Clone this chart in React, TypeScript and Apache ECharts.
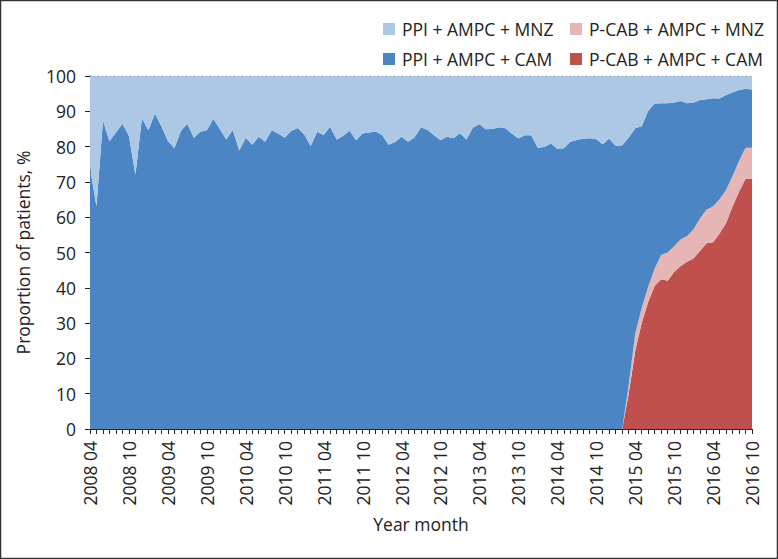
import React, { useEffect, useRef } from "react";
import * as echarts from "echarts";

const years = [2008, 2009, 2010, 2011, 2012, 2013, 2014, 2015, 2016];
const monthsLabels = ["01", "02", "03", "04", "05", "06", "07", "08", "09", "10", "11", "12"];
const categories: string[] = [];
for (const y of years) {
  for (const m of monthsLabels) {
    const key = y * 100 + Number(m);
    if (key >= 200804 && key <= 201610) categories.push(`${y} ${m}`);
  }
}

const ppiMnz = [
  26, 37, 12.5, 18.5, 16, 13.5, 17, 28, 12, 15.4,
  10.6, 14.2, 18.4, 20.5, 15.6, 13.5, 17.5, 15.8, 15.4, 12.1,
  15, 18, 15.3, 21.1, 17.5, 19.5, 17.2, 18.6, 15.4, 16.3,
  17.5, 15.6, 14.7, 16.5, 19.8, 15.8, 16.7, 14.4, 18, 17,
  15.5, 18.2, 16.3, 16, 15.7, 16.7, 19.5, 18.7, 17.2, 18.6,
  17.4, 14.5, 15.3, 16.8, 18.2, 17.2, 17.6, 16.2, 18, 14.6,
  13.7, 15.1, 15, 14.5, 14.8, 16.3, 17.7, 16.8, 16.8, 20.3,
  20.1, 19.1, 20.6, 20.5, 18.6, 18.1, 17.8, 17.6, 17.9, 19.3,
  17.7, 19.8, 19.6, 17.5, 14.8, 14.2, 9.9, 7.8, 7.7, 7.7,
  7.5, 7.1, 7.7, 7.5, 6.8, 6.6, 6.3, 6.4, 5.4, 4.7,
  4, 3.6, 3.8,
];

const ppiCam = [
  74, 63, 87.5, 81.5, 84, 86.5, 83, 72, 88, 84.6,
  89.4, 85.8, 81.6, 79.5, 84.4, 86.5, 82.5, 84.2, 84.6, 87.9,
  85, 82, 84.7, 78.9, 82.5, 80.5, 82.8, 81.4, 84.6, 83.7,
  82.5, 84.4, 85.3, 83.5, 80.2, 84.2, 83.3, 85.6, 82, 83,
  84.5, 81.8, 83.7, 84, 84.3, 83.3, 80.5, 81.3, 82.8, 81.4,
  82.6, 85.5, 84.7, 83.2, 81.8, 82.8, 82.4, 83.8, 82, 85.4,
  86.3, 84.9, 85, 85.5, 85.2, 83.7, 82.3, 83.2, 83.2, 79.7,
  79.9, 80.9, 79.4, 79.5, 81.4, 81.9, 82.2, 82.4, 82.1, 80.7,
  82.3, 80.2, 80.4, 70, 58.2, 51.6, 49.8, 46.7, 43, 42.3,
  40.7, 39.2, 37.6, 35.9, 33.5, 31.2, 30.7, 28.5, 26.9, 23.6,
  20.1, 16.7, 16.5,
];

const pcabMnz = [
  0, 0, 0, 0, 0, 0, 0, 0, 0, 0,
  0, 0, 0, 0, 0, 0, 0, 0, 0, 0,
  0, 0, 0, 0, 0, 0, 0, 0, 0, 0,
  0, 0, 0, 0, 0, 0, 0, 0, 0, 0,
  0, 0, 0, 0, 0, 0, 0, 0, 0, 0,
  0, 0, 0, 0, 0, 0, 0, 0, 0, 0,
  0, 0, 0, 0, 0, 0, 0, 0, 0, 0,
  0, 0, 0, 0, 0, 0, 0, 0, 0, 0,
  0, 0, 0, 2.5, 5, 4.2, 4.3, 5, 6.9, 8,
  7.3, 7.5, 7.3, 8.3, 9.2, 9.6, 10.1, 9.7, 9.4, 8.7,
  8.7, 8.9, 8.9,
];

const pcabCam = [
  0, 0, 0, 0, 0, 0, 0, 0, 0, 0,
  0, 0, 0, 0, 0, 0, 0, 0, 0, 0,
  0, 0, 0, 0, 0, 0, 0, 0, 0, 0,
  0, 0, 0, 0, 0, 0, 0, 0, 0, 0,
  0, 0, 0, 0, 0, 0, 0, 0, 0, 0,
  0, 0, 0, 0, 0, 0, 0, 0, 0, 0,
  0, 0, 0, 0, 0, 0, 0, 0, 0, 0,
  0, 0, 0, 0, 0, 0, 0, 0, 0, 0,
  0, 0, 0, 10, 22, 30, 36, 40.5, 42.4, 42,
  44.5, 46.2, 47.4, 48.3, 50.5, 52.6, 52.9, 55.4, 58.3, 63,
  67.2, 70.8, 70.8,
];

const yTicks = [0, 10, 20, 30, 40, 50, 60, 70, 80, 90, 100];

const NAMES = {
  ppiMnz: "PPI + AMPC + MNZ",
  ppiCam: "PPI + AMPC + CAM",
  pcabMnz: "P-CAB + AMPC + MNZ",
  pcabCam: "P-CAB + AMPC + CAM",
};
const COLORS = {
  ppiMnz: "#adc8e4",
  ppiCam: "#4b85c4",
  pcabMnz: "#e6b6b6",
  pcabCam: "#c0504d",
};

const FONT = "Open Sans";
const FS = 17.5;
const TXT = "#222";

function legend(name: string, left: number, top: number) {
  return {
    data: [name],
    left,
    top,
    itemWidth: 12,
    itemHeight: 12,
    itemGap: 6,
    icon: "rect",
    textStyle: { fontFamily: FONT, fontSize: FS, color: TXT, padding: [0, 0, 0, 2] },
    padding: 0,
  };
}

export default function App() {
  const ref = useRef<HTMLDivElement>(null);
  useEffect(() => {
    if (!ref.current) return;
    const chart = echarts.init(ref.current, null, { renderer: "svg" });
    const area = (key: keyof typeof NAMES, data: number[], dotted = false) => ({
      name: NAMES[key],
      type: "line",
      stack: "total",
      data,
      symbol: "none",
      itemStyle: { color: COLORS[key] },
      lineStyle: dotted
        ? { width: 1, type: [1, 3], color: "#888" }
        : { width: 0 },
      areaStyle: { color: COLORS[key], opacity: 1 },
      emphasis: { disabled: true },
    });
    chart.setOption({
      animation: false,
      backgroundColor: "#fff",
      graphic: [
        {
          type: "rect",
          shape: { x: 0.5, y: 0.5, width: 777, height: 558 },
          style: { fill: "none", stroke: "#333", lineWidth: 1.5 },
          silent: true,
        },
      ],
      legend: [
        legend(NAMES.ppiMnz, 383, 20),
        legend(NAMES.pcabMnz, 570, 20),
        legend(NAMES.ppiCam, 383, 50),
        legend(NAMES.pcabCam, 570, 50),
      ],
      grid: { left: 90, right: 26, top: 76, bottom: 130, containLabel: false },
      xAxis: {
        type: "category",
        data: categories,
        boundaryGap: false,
        name: "Year month",
        nameLocation: "middle",
        nameGap: 86,
        nameTextStyle: { fontFamily: FONT, fontSize: FS, color: TXT },
        axisLine: { lineStyle: { color: "#222", width: 1 } },
        axisTick: { show: true, interval: 0, length: 5, lineStyle: { color: "#222" } },
        axisLabel: {
          interval: 5,
          rotate: 90,
          margin: 12,
          fontFamily: FONT,
          fontSize: FS,
          color: TXT,
        },
        splitLine: { show: false },
      },
      yAxis: {
        type: "value",
        min: 0,
        max: 100,
        interval: 10,
        name: "Proportion of patients, %",
        nameLocation: "middle",
        nameGap: 58,
        nameRotate: 90,
        nameTextStyle: { fontFamily: FONT, fontSize: FS, color: TXT },
        axisLine: { show: true, lineStyle: { color: "#222", width: 1 } },
        axisTick: { show: true, length: 5, lineStyle: { color: "#222" } },
        axisLabel: {
          margin: 14,
          fontFamily: FONT,
          fontSize: FS,
          color: TXT,
          formatter: (v: number) => (yTicks.includes(v) ? String(v) : ""),
        },
        splitLine: { show: false },
      },
      series: [
        area("pcabCam", pcabCam),
        area("pcabMnz", pcabMnz),
        area("ppiCam", ppiCam),
        area("ppiMnz", ppiMnz, true),
      ],
    });
    return () => chart.dispose();
  }, []);
  return (
    <div
      ref={ref}
      style={{ position: "absolute", left: 0, top: 0, width: 778, height: 559 }}
    />
  );
}
